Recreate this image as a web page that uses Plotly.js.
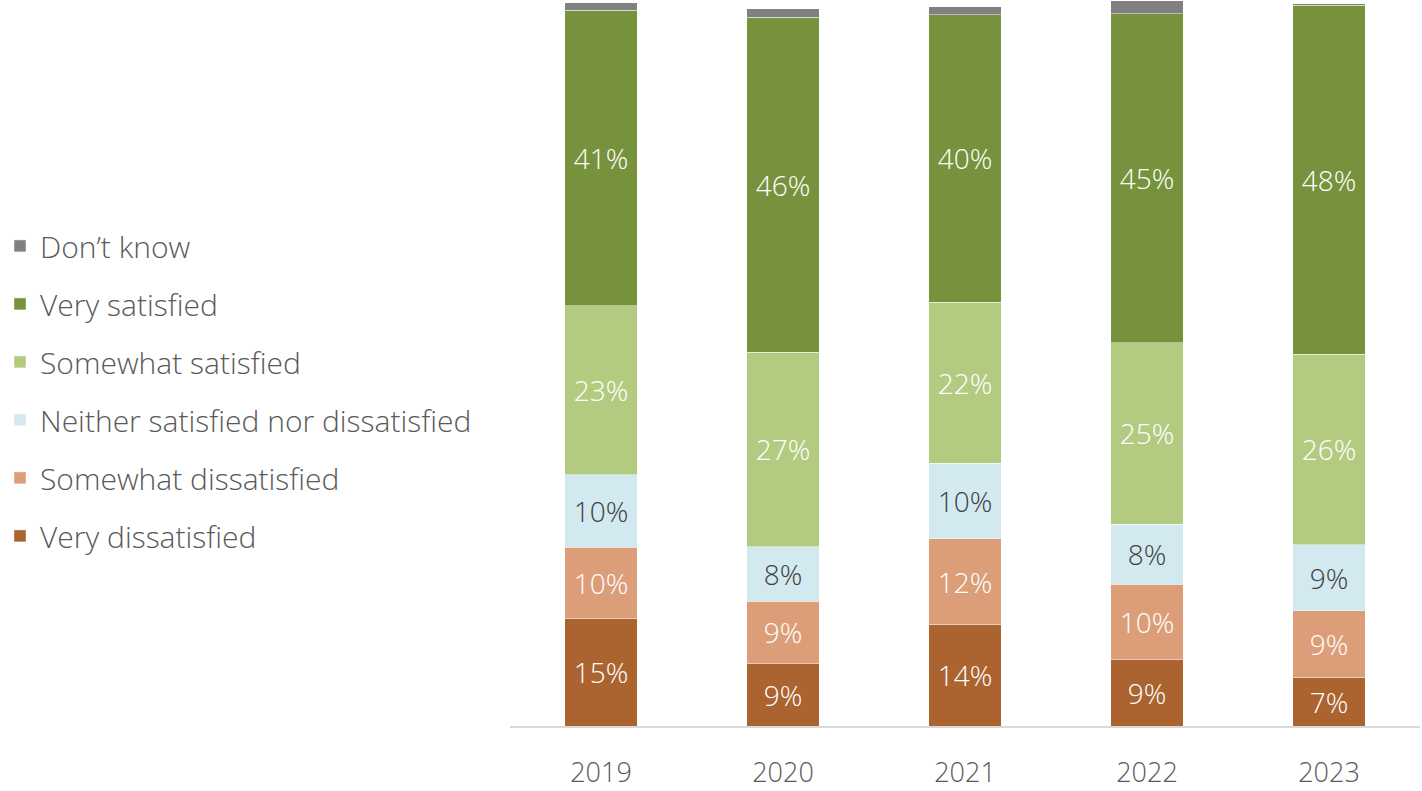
<!DOCTYPE html>
<html>
<head>
<meta charset="utf-8">
<script src="https://cdn.plot.ly/plotly-3.0.1.min.js"></script>
<style>html,body{margin:0;padding:0;background:#fff;}#chart{width:1422px;height:791px;}</style>
</head>
<body>
<div id="chart"></div>
<script>
const years = ['2019', '2020', '2021', '2022', '2023'];
const veryDissatisfied = [14.8, 8.6, 14.0, 9.1, 6.7];
const somewhatDissatisfied = [9.8, 8.6, 11.8, 10.4, 9.2];
const neither = [10.0, 7.5, 10.4, 8.3, 9.1];
const somewhatSatisfied = [23.3, 26.8, 22.2, 25.0, 26.2];
const verySatisfied = [40.7, 46.1, 39.6, 45.3, 48.1];
const dontKnow = [1.0, 1.2, 1.1, 1.8, 0.15];

const seriesNames = ['Very dissatisfied', 'Somewhat dissatisfied', 'Neither satisfied nor dissatisfied', 'Somewhat satisfied', 'Very satisfied', 'Don\u2019t know'];
const seriesValues = [veryDissatisfied, somewhatDissatisfied, neither, somewhatSatisfied, verySatisfied, dontKnow];
const seriesColors = ['#AB6330', '#DB9E78', '#D2E9EF', '#B3CB80', '#76923C', '#808080'];
const labelColors = ['#ffffff', '#ffffff', '#404040', '#ffffff', '#ffffff', '#ffffff'];

const FONT = 'Open Sans, Lato, Noto Sans, sans-serif';

const traces = seriesNames.map((name, i) => ({
  type: 'bar',
  name: name,
  x: years,
  y: seriesValues[i],
  legendgroup: 'g' + i,
  legendrank: 100 - i,
  marker: { color: seriesColors[i], line: { color: 'rgba(255,255,255,0.45)', width: 1 } },
  texttemplate: i === 5 ? '' : '%{y:.0f}%',
  textposition: i === 5 ? 'none' : 'inside',
  insidetextanchor: 'middle',
  textangle: 0,
  insidetextfont: { color: labelColors[i], size: 28, family: FONT, weight: 300 },
  hoverinfo: 'x+y+name'
}));

const layout = {
  width: 1422,
  height: 791,
  barmode: 'stack',
  bargap: 0.6,
  margin: { l: 510, r: 2, t: 0, b: 65 },
  paper_bgcolor: '#ffffff',
  plot_bgcolor: '#ffffff',
  font: { family: FONT, color: '#595959', weight: 300 },
  uniformtext: { mode: 'show', minsize: 28 },
  showlegend: true,
  legend: {
    xref: 'container', yref: 'container',
    x: 0, y: 0.722, xanchor: 'left', yanchor: 'top',
    traceorder: 'grouped',
    tracegroupgap: 16,
    font: { size: 30, color: '#595959', family: FONT, weight: 300 },
    itemwidth: 30,
    bgcolor: 'rgba(0,0,0,0)'
  },
  xaxis: {
    type: 'category',
    showline: true, linecolor: '#d9d9d9', linewidth: 2,
    ticks: '', showgrid: false, zeroline: false,
    tickfont: { size: 27, color: '#595959', family: FONT, weight: 300 },
    ticklabelstandoff: 22,
    fixedrange: true
  },
  yaxis: {
    range: [0, 100],
    visible: false, showgrid: false, zeroline: false,
    fixedrange: true
  }
};

Plotly.newPlot('chart', traces, layout, { displayModeBar: false });
</script>
</body>
</html>
